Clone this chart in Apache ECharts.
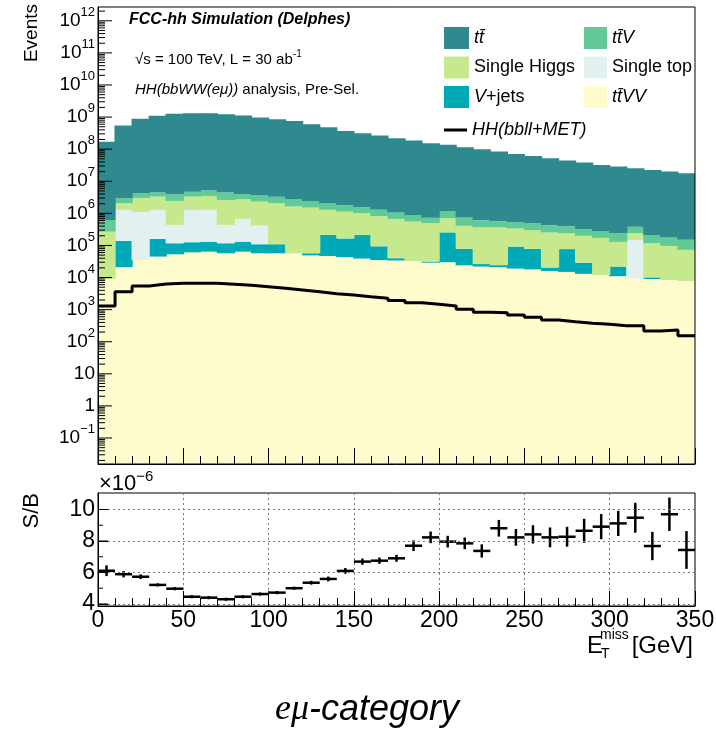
<!DOCTYPE html>
<html><head><meta charset="utf-8">
<script src="https://cdn.jsdelivr.net/npm/echarts@6/dist/echarts.min.js"></script>
<style>html,body{margin:0;padding:0;background:#fff}#c{width:716px;height:729px}</style>
</head><body><div id="c"></div>
<script>
// ---- data ----
const binLow = [0,10,20,30,40,50,60,70,80,90,100,110,120,130,140,150,160,170,180,190,200,210,220,230,240,250,260,270,280,290,300,310,320,330,340];
const binWidth = 10;
const ttVV = [9.0e3,2.1e4,3.5e4,4.5e4,5.3e4,6.1e4,6.4e4,5.7e4,6.4e4,5.7e4,5.7e4,5.7e4,4.9e4,4.7e4,4.3e4,3.9e4,3.5e4,3.4e4,3.3e4,2.9e4,3.0e4,2.4e4,2.2e4,2.1e4,1.9e4,1.8e4,1.6e4,1.5e4,1.3e4,1.2e4,1.1e4,9.5e3,9.0e3,8.4e3,7.8e3];
const vJets = [0,1.17e5,0,1.15e5,6.4e4,6.5e4,6.7e4,6.0e4,6.7e4,5.2e4,5.2e4,0,8e3,1.66e5,1.22e5,1.74e5,5.9e4,6e3,0,2.4e3,2.25e5,5.4e4,4.3e3,3.3e3,7.3e4,6.0e4,4.4e3,6.2e4,1.6e4,0,1.1e4,0,1.1e3,0,0];
const singleTop = [0,1.14e6,1.07e6,1.12e6,3.2e5,1.15e6,1.15e6,3.2e5,5.4e5,3.05e5,0,0,0,0,0,0,0,0,0,0,0,0,0,0,0,0,0,0,0,0,0,1.39e5,0,0,0];
const singleHiggs = [2.6e5,7.9e5,1.92e6,2.04e6,2.0e6,2.04e6,2.21e6,2.18e6,2.08e6,1.91e6,1.96e6,1.58e6,1.45e6,1.07e6,9.65e5,7.97e5,7.2e5,6.3e5,5.2e5,4.6e5,4.5e5,3.3e5,3.4e5,3.4e5,2.47e5,2.2e5,2.33e5,1.62e5,1.7e5,1.6e5,1.07e5,9.6e4,1.07e5,8.8e4,6.5e4];
const ttV = [3.55e5,8.9e5,1.31e6,1.24e6,1.5e6,1.43e6,1.62e6,1.94e6,1.29e6,1.43e6,1.25e6,1.18e6,9.3e5,7.9e5,7.0e5,5.4e5,4.7e5,4.0e5,3.0e5,2.4e5,4.3e5,3.4e5,2.4e5,2.0e5,2.0e5,1.94e5,1.73e5,1.57e5,1.29e5,1.12e5,1.16e5,1.4e5,9.6e4,8.1e4,7.7e4];
const ttbar = [1.71e8,5.40e8,8.75e8,1.105e9,1.256e9,1.315e9,1.315e9,1.225e9,1.106e9,9.6e8,8.56e8,7.57e8,5.98e8,4.82e8,3.69e8,3.13e8,2.64e8,2.19e8,1.84e8,1.52e8,1.35e8,1.14e8,9.9e7,8.33e7,7.08e7,6.12e7,5.18e7,4.37e7,3.78e7,3.21e7,2.84e7,2.51e7,2.24e7,1.98e7,1.77e7];
const signalHH = [1300,3630,5470,6310,6640,6640,6640,6180,5750,5200,4630,4100,3630,3150,2860,2540,2260,1930,1650,1470,1300,1030,828,805,682,578,476,422,376,350,316,316,216,232,154];
const sbRatio = [6.11,5.89,5.73,5.21,4.97,4.46,4.40,4.30,4.46,4.63,4.72,5.0,5.35,5.59,6.10,6.69,6.75,6.90,7.70,8.23,7.96,7.85,7.37,8.81,8.23,8.42,8.23,8.27,8.65,8.91,9.12,9.48,7.68,9.70,7.43];
const sbError = [0.34,0.2,0.15,0.1,0.1,0.1,0.1,0.1,0.1,0.1,0.1,0.1,0.12,0.15,0.18,0.2,0.2,0.22,0.34,0.37,0.37,0.37,0.42,0.53,0.53,0.58,0.63,0.63,0.76,0.8,0.8,0.95,0.9,1.06,1.2];
const yExponents = [-1,0,1,2,3,4,5,6,7,8,9,10,11,12];
const sbTicks = [4,6,8,10];
const sbMinorTicks = [5,7,9];
const xMax = 350;

// ---- stack order bottom -> top ----
const procKeys = ['ttVV','VJ','ST','SH','ttV','tt'];
const procVals = [ttVV, vJets, singleTop, singleHiggs, ttV, ttbar];
const procColors = ['#fefbcc','#00a9b6','#e2f1ef','#c5e98c','#63ca97','#2f8a8f'];
const LOGMIN = -1.81, LOGMAX = 12.43;
const YMIN = Math.pow(10, LOGMIN), YMAX = Math.pow(10, LOGMAX);
const FONT = "'Liberation Sans', Arial, Helvetica, sans-serif";

const cum = binLow.map(() => YMIN);
const series = [];
procKeys.forEach((k, p) => {
  const data = binLow.map((x, i) => {
    const lo = cum[i];
    const hi = cum[i] + procVals[p][i];
    cum[i] = hi;
    return [x, x + binWidth, lo, hi];
  });
  series.push({
    type: 'custom', name: k, xAxisIndex: 0, yAxisIndex: 0, clip: true,
    itemStyle: { color: procColors[p] },
    encode: { x: [0, 1], y: [2, 3] },
    data: data,
    renderItem: (params, api) => {
      const x0 = api.value(0), x1 = api.value(1), lo = api.value(2), hi = api.value(3);
      if (!(hi > lo)) return null;
      const a = api.coord([x0, hi]), b = api.coord([x1, lo]);
      return { type: 'rect', shape: { x: a[0] - 0.6, y: a[1], width: b[0] - a[0] + 1.2, height: b[1] - a[1] },
               style: { fill: procColors[p] } };
    }
  });
});
const hhData = binLow.map((x, i) => [x, signalHH[i]]);
hhData.push([xMax, signalHH[signalHH.length - 1]]);
series.push({
  type: 'line', name: 'HH', xAxisIndex: 0, yAxisIndex: 0, step: 'end', symbol: 'none', showSymbol: false,
  lineStyle: { color: '#000', width: 3 }, itemStyle: { color: '#000' }, data: hhData, z: 5
});
series.push({
  type: 'custom', name: 'SB', xAxisIndex: 2, yAxisIndex: 3, clip: false,
  encode: { x: 0, y: 1 },
  data: binLow.map((x, i) => [x + binWidth / 2, sbRatio[i], sbError[i]]),
  renderItem: (params, api) => {
    const xc = api.value(0), v = api.value(1), e = api.value(2);
    const a = api.coord([xc - binWidth / 2, v]), b = api.coord([xc + binWidth / 2, v]);
    const c = api.coord([xc, v - e]), d = api.coord([xc, v + e]);
    return { type: 'group', children: [
      { type: 'line', shape: { x1: a[0], y1: a[1], x2: b[0], y2: b[1] }, style: { stroke: '#000', lineWidth: 2.5 } },
      { type: 'line', shape: { x1: c[0], y1: c[1], x2: d[0], y2: d[1] }, style: { stroke: '#000', lineWidth: 2.5 } }
    ] };
  }
});

// left-axis tick marks (drawn through the axes' own scales)
const majorTickVals = yExponents.map(n => Math.pow(10, n));
const minorTickVals = [];
for (let n = -2; n <= 12; n++) for (let k = 2; k <= 9; k++) {
  const v = k * Math.pow(10, n);
  if (v > YMIN && v < YMAX) minorTickVals.push(v);
}
function tickSeries(vals, xIdx, yIdx, len) {
  return {
    type: 'custom', xAxisIndex: xIdx, yAxisIndex: yIdx, clip: false, silent: true, z: 8,
    encode: { y: 0 }, data: vals.map(v => [v]),
    renderItem: (params, api) => {
      const p = api.coord([0, api.value(0)]);
      return { type: 'line', shape: { x1: p[0], y1: p[1], x2: p[0] + len, y2: p[1] }, style: { stroke: '#000', lineWidth: 1 } };
    }
  };
}
series.push(tickSeries(majorTickVals, 0, 0, 14));
series.push(tickSeries(minorTickVals, 0, 0, 7));
series.push(tickSeries(sbTicks, 2, 3, 10));
series.push(tickSeries(sbMinorTicks, 2, 3, 5));

const legendRich = {
  i: { fontStyle: 'italic', fontSize: 18, fontFamily: FONT, color: '#000' },
  n: { fontSize: 18, fontFamily: FONT, color: '#000' }
};
const legendLabels = {
  tt: '{i|tt\u0304}', ttV: '{i|tt\u0304V}', SH: '{n|Single Higgs}', ST: '{n|Single top}',
  VJ: '{i|V}{n|+jets}', ttVV: '{i|tt\u0304VV}', HH: '{i|HH(bbll+MET)}'
};
function mkLegend(items, left, top, w, h, icon) {
  return { data: items, orient: 'vertical', left: left, top: top, padding: 0, itemGap: 7.5,
    itemWidth: w, itemHeight: h, icon: icon, selectedMode: false,
    formatter: n => legendLabels[n], textStyle: { rich: legendRich, fontSize: 18, color: '#000' } };
}

const noLine = { show: false, onZero: false };
const blackLine = { show: true, onZero: false, lineStyle: { color: '#000', width: 1 } };
const tick = (len) => ({ show: true, inside: true, length: len, lineStyle: { color: '#000', width: 1 } });
const option = {
  animation: false,
  backgroundColor: '#fff',
  grid: [
    { left: 98, right: 21, top: 7, height: 457, show: true, borderColor: '#000', borderWidth: 1, backgroundColor: 'transparent', outerBoundsMode: 'none', z: 10 },
    { left: 98, right: 21, top: 493, height: 113, show: true, borderColor: '#000', borderWidth: 1, backgroundColor: 'transparent', outerBoundsMode: 'none' }
  ],
  legend: [
    mkLegend(['tt', 'SH', 'VJ'], 444, 27, 25, 22, 'rect'),
    mkLegend(['ttV', 'ST', 'ttVV'], 584, 27, 23, 22, 'rect'),
    mkLegend([{ name: 'HH', icon: 'rect' }], 444, 121, 23, 3, 'rect')
  ],
  xAxis: [
    { gridIndex: 0, type: 'value', min: 0, max: xMax, interval: 10, position: 'bottom', z: 10,
      axisLine: blackLine, axisTick: tick(8), axisLabel: { show: false }, splitLine: { show: false } },
    { gridIndex: 0, type: 'value', min: 0, max: xMax, interval: 50, position: 'bottom', z: 10,
      axisLine: noLine, axisTick: tick(16), axisLabel: { show: false }, splitLine: { show: false } },
    { gridIndex: 1, type: 'value', min: 0, max: xMax, interval: 10, position: 'bottom', z: 10,
      axisLine: blackLine, axisTick: tick(8), axisLabel: { show: false }, splitLine: { show: false } },
    { gridIndex: 1, type: 'value', min: 0, max: xMax, interval: 50, position: 'bottom', z: 10,
      axisLine: noLine, axisTick: tick(15),
      axisLabel: { show: true, margin: 3, fontSize: 23, fontFamily: FONT, color: '#000' },
      splitLine: { show: true, lineStyle: { color: '#777', type: [2, 3], width: 1 } } }
  ],
  yAxis: [
    { gridIndex: 0, type: 'log', logBase: 10, min: YMIN, max: YMAX, position: 'left', axisLine: noLine,
      axisTick: { show: false }, axisLabel: { show: false }, splitLine: { show: false } },
    { gridIndex: 0, type: 'value', min: LOGMIN, max: LOGMAX, position: 'left', z: 10,
      axisLine: blackLine, axisTick: { show: false },
      axisLabel: { show: true, customValues: yExponents, margin: 3, color: '#000',
        formatter: v => { const n = Math.round(v); if (n === 0) return '{b|1}'; if (n === 1) return '{b|10}';
          return '{b|10}{s|' + (n < 0 ? '\u2212' + (-n) : n) + '}'; },
        rich: { b: { fontSize: 19, fontFamily: FONT, color: '#000', lineHeight: 30 },
                s: { fontSize: 13, fontFamily: FONT, color: '#000', verticalAlign: 'top', lineHeight: 12 } } },
      splitLine: { show: false } },
    { gridIndex: 0, type: 'value', min: LOGMIN, max: LOGMAX, position: 'left', show: false },
    { gridIndex: 1, type: 'value', min: 3.87, max: 11.05, position: 'left', z: 10,
      axisLine: blackLine, axisTick: { show: true, inside: true, length: 10, customValues: sbTicks },
      axisLabel: { show: true, customValues: sbTicks, margin: 3, fontSize: 23, fontFamily: FONT, color: '#000' },
      splitLine: { show: true, lineStyle: { color: '#777', type: [2, 3], width: 1 } } }
  ],
  series: series,
  graphic: [
    { type: 'text', left: 129, top: 12, style: { text: 'FCC-hh Simulation (Delphes)', font: "italic bold 16px " + FONT, fill: '#000' } },
    { type: 'text', x: 135, y: 60, style: { text: '{n|\u221As = 100 TeV, L = 30 ab}{s|-1}', verticalAlign: 'middle',
        rich: { n: { fontSize: 15, fontFamily: FONT, color: '#000', lineHeight: 22 },
                s: { fontSize: 10, fontFamily: FONT, color: '#000', verticalAlign: 'top', lineHeight: 10 } } } },
    { type: 'text', x: 135, y: 90, style: { text: '{i|HH(bbWW(e\u03BC))}{n| analysis, Pre-Sel.}', verticalAlign: 'middle',
        rich: { i: { fontSize: 15, fontStyle: 'italic', fontFamily: FONT, color: '#000' },
                n: { fontSize: 15, fontFamily: FONT, color: '#000' } } } },
    { type: 'text', x: 32, y: 4, rotation: Math.PI / 2,
      style: { text: 'Events', font: '19px ' + FONT, fill: '#000', align: 'right', verticalAlign: 'middle' } },
    { type: 'text', x: 32, y: 493, rotation: Math.PI / 2,
      style: { text: 'S/B', font: '22px ' + FONT, fill: '#000', align: 'right', verticalAlign: 'middle' } },
    { type: 'text', x: 99, y: 484, style: { text: '{n|\u00D710}{s|\u22126}', verticalAlign: 'middle',
        rich: { n: { fontSize: 22, fontFamily: FONT, color: '#000', lineHeight: 30 },
                s: { fontSize: 15, fontFamily: FONT, color: '#000', verticalAlign: 'top', lineHeight: 14 } } } },
    { type: 'text', x: 587, y: 646, style: { text: 'E', font: '24px ' + FONT, fill: '#000', verticalAlign: 'middle' } },
    { type: 'text', x: 600, y: 635, style: { text: 'miss', font: '14px ' + FONT, fill: '#000', verticalAlign: 'middle' } },
    { type: 'text', x: 601, y: 654, style: { text: 'T', font: '14px ' + FONT, fill: '#000', verticalAlign: 'middle' } },
    { type: 'text', x: 693, y: 646, style: { text: '[GeV]', font: '24px ' + FONT, fill: '#000', align: 'right', verticalAlign: 'middle' } },
    { type: 'text', x: 367, y: 710, style: { text: '{e|e\u03BC}{n|-category}', align: 'center', verticalAlign: 'middle',
        rich: { e: { fontSize: 36, fontStyle: 'italic', fontFamily: "'Liberation Serif', serif", color: '#000' },
                n: { fontSize: 36, fontStyle: 'italic', fontFamily: FONT, color: '#000' } } } }
  ]
};
const chart = echarts.init(document.getElementById('c'), null, { renderer: 'canvas' });
chart.setOption(option);
</script>
</body></html>
